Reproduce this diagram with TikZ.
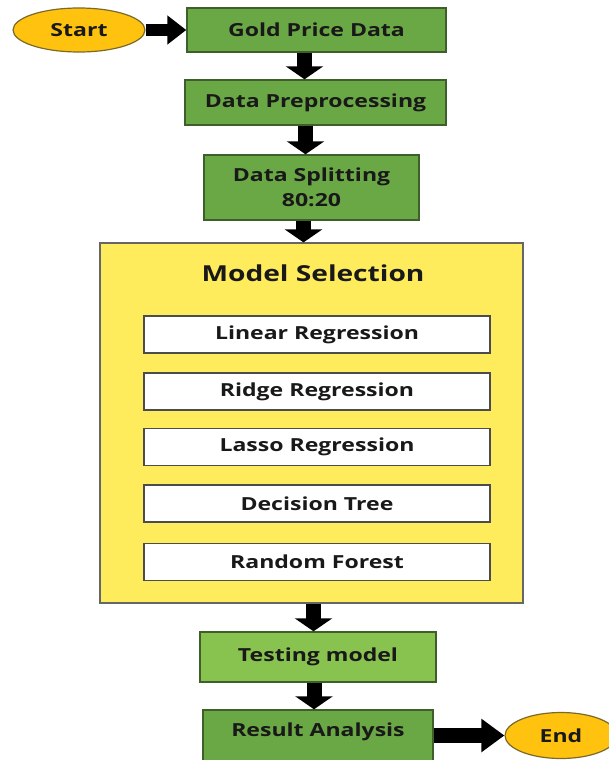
\documentclass[tikz,border=0pt]{standalone}
\usepackage{fontspec}
\setmainfont{Open Sans}[FakeStretch=1.28]
\usetikzlibrary{arrows.meta,shapes.geometric}
\definecolor{boxgreen}{HTML}{6AA745}
\definecolor{lightgreen}{HTML}{88C24F}
\definecolor{boxline}{HTML}{3E5E2A}
\definecolor{panelyellow}{HTML}{FFEC5C}
\definecolor{ovalfill}{HTML}{FFC20E}
\definecolor{ovalline}{HTML}{7A6A2A}
\tikzset{
  every node/.style={font=\bfseries\fontsize{18}{25}\selectfont, text=black!90},
  greenbox/.style={draw=boxline, line width=1.4pt, fill=boxgreen, inner sep=0pt},
  lightbox/.style={greenbox, fill=lightgreen},
  oval/.style={ellipse, draw=ovalline, line width=1.2pt, fill=ovalfill, inner sep=0pt},
  modelbox/.style={draw=black!70, line width=1.4pt, fill=white, minimum width=346pt, minimum height=37pt, inner sep=0pt},
  panel/.style={draw=black!60, line width=1.2pt, fill=panelyellow, inner sep=0pt},
  barrow/.style={line width=15pt, -{Triangle[width=37pt,length=13pt]}, black},
  startarrow/.style={line width=12pt, -{Triangle[width=28pt,length=19pt]}, black},
  endarrow/.style={line width=15pt, -{Triangle[width=32pt,length=23pt]}, black},
}
\begin{document}
\begin{tikzpicture}[x=1pt,y=-1pt]
  \clip (0,0) rectangle (609,760);
  \fill[white] (0,0) rectangle (609,760);

  % main chain of steps
  \node[oval, minimum width=132pt, minimum height=44pt] (start) at (79,30) {Start};
  \node[greenbox, minimum width=259pt, minimum height=44pt] (gold) at (316.5,30) {Gold Price Data};
  \node[greenbox, minimum width=261pt, minimum height=45pt] (prep) at (315.5,102.5) {Data Preprocessing};
  \node[greenbox, minimum width=215pt, minimum height=65pt, align=center] (split) at (311.5,187.5) {Data Splitting\\80:20};

  % model selection panel with the candidate models
  \node[panel, minimum width=423pt, minimum height=360pt] (models) at (311.5,423) {};
  \node[font=\bfseries\fontsize{22}{26}\selectfont] (mtitle) at (313,273) {Model Selection};
  \node[modelbox] (lin) at (317,334.5) {Linear Regression};
  \node[modelbox] (ridge) at (317,391.5) {Ridge Regression};
  \node[modelbox] (lasso) at (317,447) {Lasso Regression};
  \node[modelbox] (tree) at (317,503.5) {Decision Tree};
  \node[modelbox] (forest) at (317,562) {Random Forest};

  \node[lightbox, minimum width=236pt, minimum height=50pt] (test) at (318,657) {Testing model};
  % the last box runs past the lower edge; its label sits in the upper part
  \node[greenbox, minimum width=230pt, minimum height=58pt, text height=13pt, text depth=19pt] (result) at (318,739) {Result Analysis};
  \node[oval, minimum width=112pt, minimum height=46pt] (end) at (561,735.5) {End};

  % block arrows between the steps
  \draw[startarrow] (start) -- (gold);
  \draw[barrow] ([xshift=-12pt]gold.south) -- ([xshift=-12pt]gold.south |- prep.north);
  \draw[barrow] ([xshift=-10pt]prep.south) -- ([xshift=-10pt]prep.south |- split.north);
  \draw[barrow] ([xshift=-8pt]split.south) -- ([xshift=-8pt]split.south |- models.north);
  \draw[barrow] ([xshift=2pt]models.south) -- ([xshift=2pt]models.south |- test.north);
  \draw[barrow] ([xshift=-4pt]test.south) -- ([xshift=-4pt]test.south |- result.north);
  \draw[endarrow] (result.east |- end) -- (end);
\end{tikzpicture}
\end{document}
